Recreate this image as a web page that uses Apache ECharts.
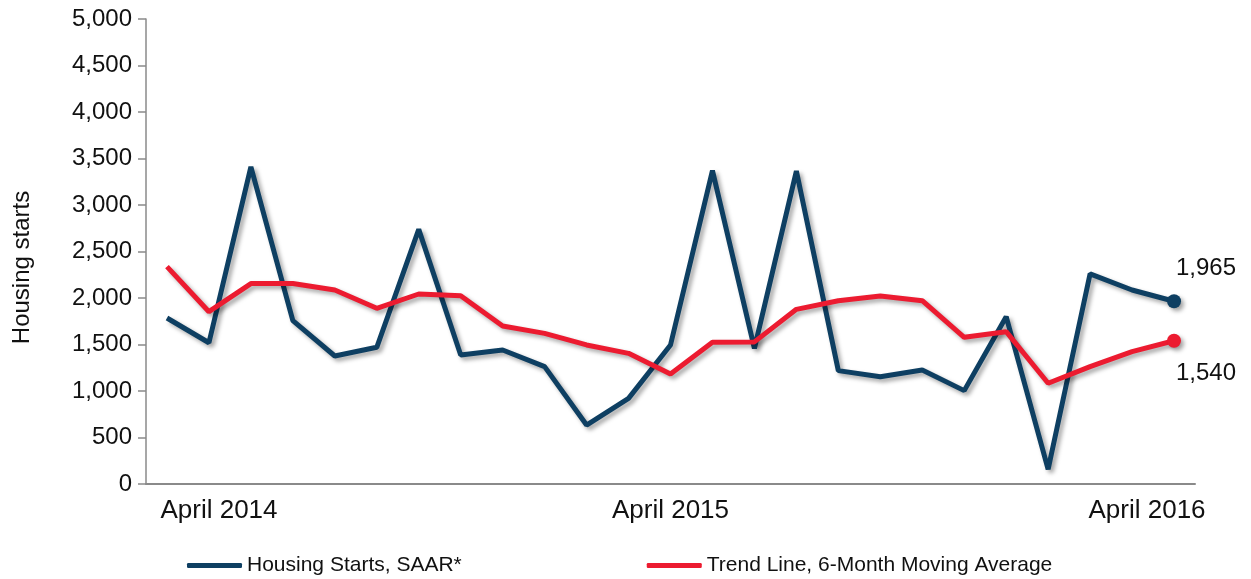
<!DOCTYPE html>
<html>
<head>
<meta charset="utf-8">
<script src="https://cdn.jsdelivr.net/npm/echarts@6/dist/echarts.min.js"></script>
<style>
  html, body { margin: 0; padding: 0; background: #fff; }
  #chart { width: 1251px; height: 579px; }
</style>
</head>
<body>
<div id="chart"></div>
<script>
const months = [
  'April 2014','May 2014','June 2014','July 2014','August 2014','September 2014',
  'October 2014','November 2014','December 2014','January 2015','February 2015','March 2015',
  'April 2015','May 2015','June 2015','July 2015','August 2015','September 2015',
  'October 2015','November 2015','December 2015','January 2016','February 2016','March 2016',
  'April 2016'
];
const housingStarts = [1785, 1519, 3410, 1756, 1376, 1470, 2738, 1387, 1441, 1262, 634, 921,
  1495, 3370, 1459, 3365, 1219, 1154, 1226, 1004, 1799, 158, 2260, 2086, 1965];
const trendLine = [2337, 1853, 2155, 2155, 2086, 1889, 2043, 2025, 1699, 1620, 1495, 1405,
  1183, 1524, 1528, 1878, 1971, 2022, 1971, 1577, 1638, 1083, 1262, 1423, 1540];
const xTickLabels = ['April 2014', 'April 2015', 'April 2016'];
const seriesNames = ['Housing Starts, SAAR*', 'Trend Line, 6-Month Moving Average'];

const FONT = "'Liberation Sans', Arial, sans-serif";
const last = months.length - 1;
const BLUE = '#0E3F62';
const RED = '#EC1B30';

function lineSeries(name, data, color, labelOffset) {
  return {
    name: name,
    type: 'line',
    data: data,
    color: color,
    symbol: 'circle',
    showSymbol: true,
    showAllSymbol: true,
    symbolSize: function (val, params) { return params.dataIndex === last ? 14 : 0; },
    itemStyle: { color: color, shadowColor: 'rgba(0,0,0,0.35)', shadowBlur: 4, shadowOffsetX: 3, shadowOffsetY: 3 },
    lineStyle: { color: color, width: 5, shadowColor: 'rgba(0,0,0,0.35)', shadowBlur: 4, shadowOffsetX: 3, shadowOffsetY: 3 },
    label: {
      show: true,
      position: 'inside',
      offset: labelOffset,
      fontFamily: FONT,
      fontSize: 24,
      color: '#111',
      formatter: function (p) { return p.dataIndex === last ? p.value.toLocaleString('en-US') : ''; }
    },
    emphasis: { disabled: true },
    z: name === seriesNames[1] ? 3 : 2
  };
}

const chart = echarts.init(document.getElementById('chart'), null, { renderer: 'canvas' });
chart.setOption({
  animation: false,
  backgroundColor: '#ffffff',
  grid: { left: 146, right: 56, top: 19, bottom: 95 },
  legend: {
    data: seriesNames,
    left: 187,
    top: 555,
    padding: 0,
    icon: 'roundRect',
    itemWidth: 55,
    itemHeight: 5,
    itemGap: 185,
    textStyle: { fontFamily: FONT, fontSize: 21, color: '#111' }
  },
  xAxis: {
    type: 'category',
    data: months,
    boundaryGap: true,
    axisLine: { lineStyle: { color: '#8a8a8a', width: 2 } },
    axisTick: { show: false },
    splitLine: { show: false },
    axisLabel: {
      interval: function (idx, val) { return xTickLabels.indexOf(val) !== -1; },
      margin: 14,
      fontFamily: FONT,
      fontSize: 26,
      color: '#111',
      formatter: function (val) {
        const k = xTickLabels.indexOf(val);
        return k === 0 ? '{first|' + val + '}' : (k === xTickLabels.length - 1 ? '{lastl|' + val + '}' : val);
      },
      rich: {
        first: { fontFamily: FONT, fontSize: 26, color: '#111', padding: [0, 0, 0, 104] },
        lastl: { fontFamily: FONT, fontSize: 26, color: '#111', padding: [0, 54, 0, 0] }
      }
    }
  },
  yAxis: {
    type: 'value',
    min: 0,
    max: 5000,
    interval: 500,
    name: 'Housing starts',
    nameLocation: 'middle',
    nameGap: 112,
    nameTextStyle: { fontFamily: FONT, fontSize: 24, color: '#111', padding: [0, 32, 0, 0] },
    axisLine: { show: true, lineStyle: { color: '#8a8a8a', width: 1.5 } },
    axisTick: { show: true, length: 8, lineStyle: { color: '#8a8a8a', width: 1.5 } },
    splitLine: { show: false },
    axisLabel: {
      margin: 14,
      fontFamily: FONT,
      fontSize: 24,
      color: '#111',
      formatter: function (v) { return v.toLocaleString('en-US'); }
    }
  },
  series: [
    lineSeries(seriesNames[0], housingStarts, BLUE, [32, -33]),
    lineSeries(seriesNames[1], trendLine, RED, [32, 33])
  ]
});
</script>
</body>
</html>
